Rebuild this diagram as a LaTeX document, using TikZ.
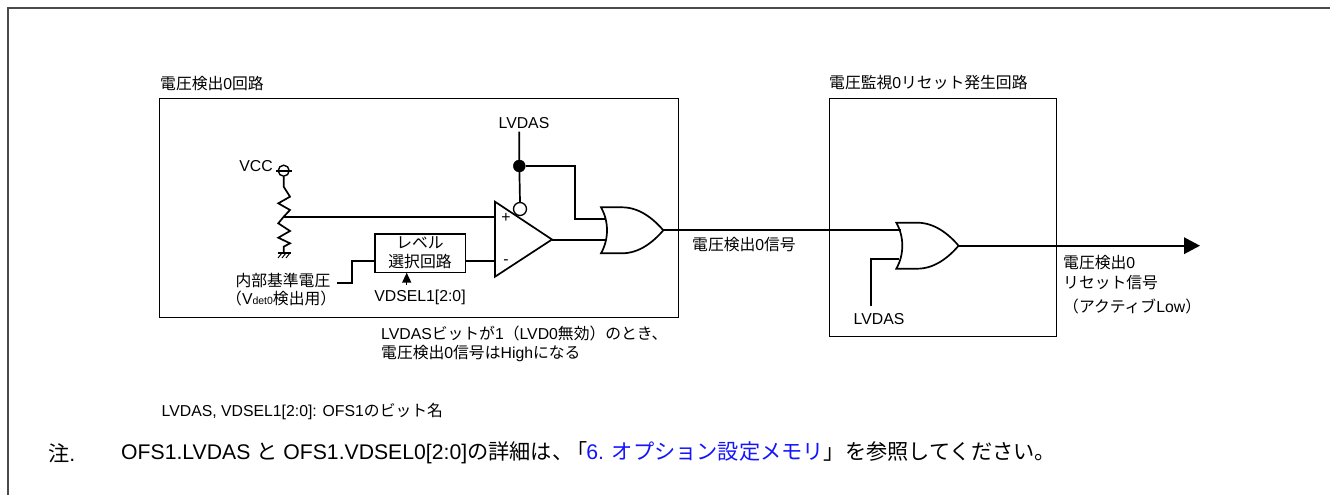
\documentclass[tikz,border=0pt]{standalone}
\usepackage{fontspec}
\usetikzlibrary{arrows.meta}
\setmainfont{Liberation Sans}
\newfontfamily\cjk{Noto Sans CJK JP}
\newcommand{\J}[1]{{\cjk #1}}
\definecolor{framegray}{HTML}{4A4A4A}
\definecolor{linkblue}{HTML}{1414FF}
\tikzset{
  x=1pt,y=-1pt,
  frameline/.style={draw=framegray,line width=1.7pt},
  blockbox/.style={draw=black,line width=1pt,inner sep=0pt,fill=none},
  wire/.style={draw=black,line width=1.7pt,line join=miter},
  lbl/.style={inner sep=0pt,anchor=west,font=\fontsize{15.8}{18}\selectfont,text=black},
  lblc/.style={inner sep=0pt,anchor=center,font=\fontsize{15.8}{18}\selectfont,text=black},
  note/.style={inner sep=0pt,anchor=west,font=\fontsize{21.2}{24}\selectfont,text=black},
  dot/.style={circle,fill=black,draw=black,inner sep=0pt,minimum size=12pt},
  bubble/.style={circle,fill=white,draw=black,line width=1.3pt,inner sep=0pt,minimum size=13pt},
  vcccircle/.style={circle,draw=black,line width=1.4pt,inner sep=0pt,minimum size=11pt},
  orgate/.pic={
    \draw[wire] (0,0) -- (21,0) .. controls (38,0) and (52,11) .. (62.3,23)
       .. controls (52,35) and (38,46) .. (21,46) -- (0,46)
       .. controls (8,32) and (8,14) .. (0,0) -- cycle;
    \coordinate (-tip) at (62.3,23);
  },
}
\begin{document}
\begin{tikzpicture}
\useasboundingbox (0,0) rectangle (1330,495);
\fill[white] (0,0) rectangle (1330,495);
% outer frame (open at right and bottom)
\coordinate (fbl) at (7.7,495);
\coordinate (ftl) at (7.7,8);
\coordinate (ftr) at (1330,8);
\draw[frameline] (fbl) -- (ftl) -- (ftr);

% blocks
\node[blockbox,minimum width=519pt,minimum height=219pt] (blockA) at (418.5,207.5) {};
\node[blockbox,minimum width=227pt,minimum height=238pt] (blockB) at (942.5,217) {};
\node[lbl] (titleA) at (160,84) {\J{電圧検出}0\J{回路}};
\node[lbl] (titleB) at (829,83) {\J{電圧監視}0\J{リセット発生回路}};

% level box
\node[blockbox,line width=1.5pt,minimum width=90.5pt,minimum height=38.5pt] (lvl) at (420.3,253.2) {};
\node[lblc] (lvlA) at (420,243) {\J{レベル}};
\node[lblc] (lvlB) at (420,262) {\J{選択回路}};

% VCC and divider
\node[lbl,anchor=east] (vcc) at (273,165.7) {VCC};
\node[vcccircle] (vc) at (283.7,170.7) {};
\coordinate (vbarL) at (276,170.7);
\coordinate (vbarR) at (292,170.7);
\draw[wire] (vbarL) -- (vbarR);
\coordinate (rtap) at (283.7,216.7);
\coordinate (gnd) at (283.7,252.7);
\draw[wire] (vc.south) -- (283.7,186.7) -- (290,196.7) -- (278.3,203.3) -- (290,210) -- (rtap)
   -- (278.3,223.3) -- (290,231) -- (278.3,237.7) -- (290,243.3) -- (283.7,246.7) -- (gnd);
\draw[wire] (277.5,252.7) -- (291,252.7);
\draw[black,line width=1pt] (282,253) -- (278,258) (286,253) -- (282,258) (290,253) -- (286,258);

% op-amp
\coordinate (opT) at (495,201.7);
\coordinate (opB) at (495,276.7);
\coordinate (opTip) at (552,239.5);
\coordinate (opP) at (495,216.7);
\coordinate (opM) at (495,260.7);
\draw[wire] (opT) -- (opB) -- (opTip) -- cycle;
\node[lblc] (plus) at (506,217.5) {+};
\node[lblc] (minus) at (506,262.5) {-};
\node[bubble] (bub) at (520,209) {};

\draw[wire] (rtap) -- (opP);
\draw[wire] (lvl.east |- opM) -- (opM);

% reference input
\node[lbl,anchor=east] (iref) at (330.5,280.7) {\J{内部基準電圧}};
\node[lbl] (iref2) at (226,298) {\J{（}V{\fontsize{10.5}{12}\selectfont det0}\J{検出用）}};
\coordinate (irefS) at (336.7,283);
\coordinate (irefK) at (352,261);
\draw[wire] (irefS) -- (irefS -| irefK) -- (irefK) -- (irefK -| lvl.west);

% VDSEL
\node[lblc] (vdsel) at (420,297) {VDSEL1[2:0]};
\coordinate (vdselS) at (406.7,285);
\coordinate (vdselE) at (406.7,272.7);
\draw[black,line width=1.5pt,-{Triangle[length=10pt,width=9pt]}] (vdselS) -- (vdselE);

% LVDAS top
\node[lblc] (lvdasA) at (524,122.7) {LVDAS};
\coordinate (lvdasS) at (519.3,131.7);
\node[dot] (jn) at (519.3,166) {};
\draw[wire] (lvdasS) -- (jn) -- (bub.north);

% OR gates
\pic (orA) at (601,207.3) {orgate};
\pic (orB) at (896.3,222.7) {orgate};
\coordinate (orA1) at (605.5,218.7);
\coordinate (orA2) at (605.5,240);
\coordinate (orB1) at (900.5,230);
\coordinate (orB2) at (899,258.7);
\draw[wire] (jn) -- (575.3,166) -- (575.3,218.7) -- (orA1);
\draw[wire] (opTip |- orA2) -- (orA2);
\draw[wire] (orA-tip) -- (orA-tip -| orB1) ;

% LVDAS second
\coordinate (lvdasBs) at (871,306);
\draw[wire] (lvdasBs) -- (871,258.7) -- (orB2);
\node[lblc] (lvdasB) at (879,319) {LVDAS};

% output
\coordinate (outEnd) at (1200,245.7);
\draw[wire,-{Triangle[length=16pt,width=16.5pt]}] (orB-tip) -- (outEnd);

% labels
\node[lbl] (sigA) at (692,245) {\J{電圧検出}0\J{信号}};
\node[lbl] (outA) at (1063,262.7) {\J{電圧検出}0};
\node[lbl] (outB) at (1063,282.7) {\J{リセット信号}};
\node[lbl] (outC) at (1063,306) {\J{（アクティブ}Low\J{）}};
\node[lbl] (cA) at (381,333) {LVDAS\J{ビットが}1\J{（}LVD0\J{無効）のとき、}};
\node[lbl] (cB) at (381,353) {\J{電圧検出}0\J{信号は}High\J{になる}};
\node[lbl] (bits) at (161.5,411) {LVDAS, VDSEL1[2:0]: OFS1\J{のビット名}};
\node[note] (noteA) at (48,453) {\J{注}.};
\node[note] (noteB) at (121,453) {OFS1.LVDAS \J{と} OFS1.VDSEL0[2:0]\J{の詳細は、}\kern-7pt\J{「}\kern-1pt\textcolor{linkblue}{6. \J{オプション設定メモリ}}\J{」を参照してください。}};
\end{tikzpicture}
\end{document}
